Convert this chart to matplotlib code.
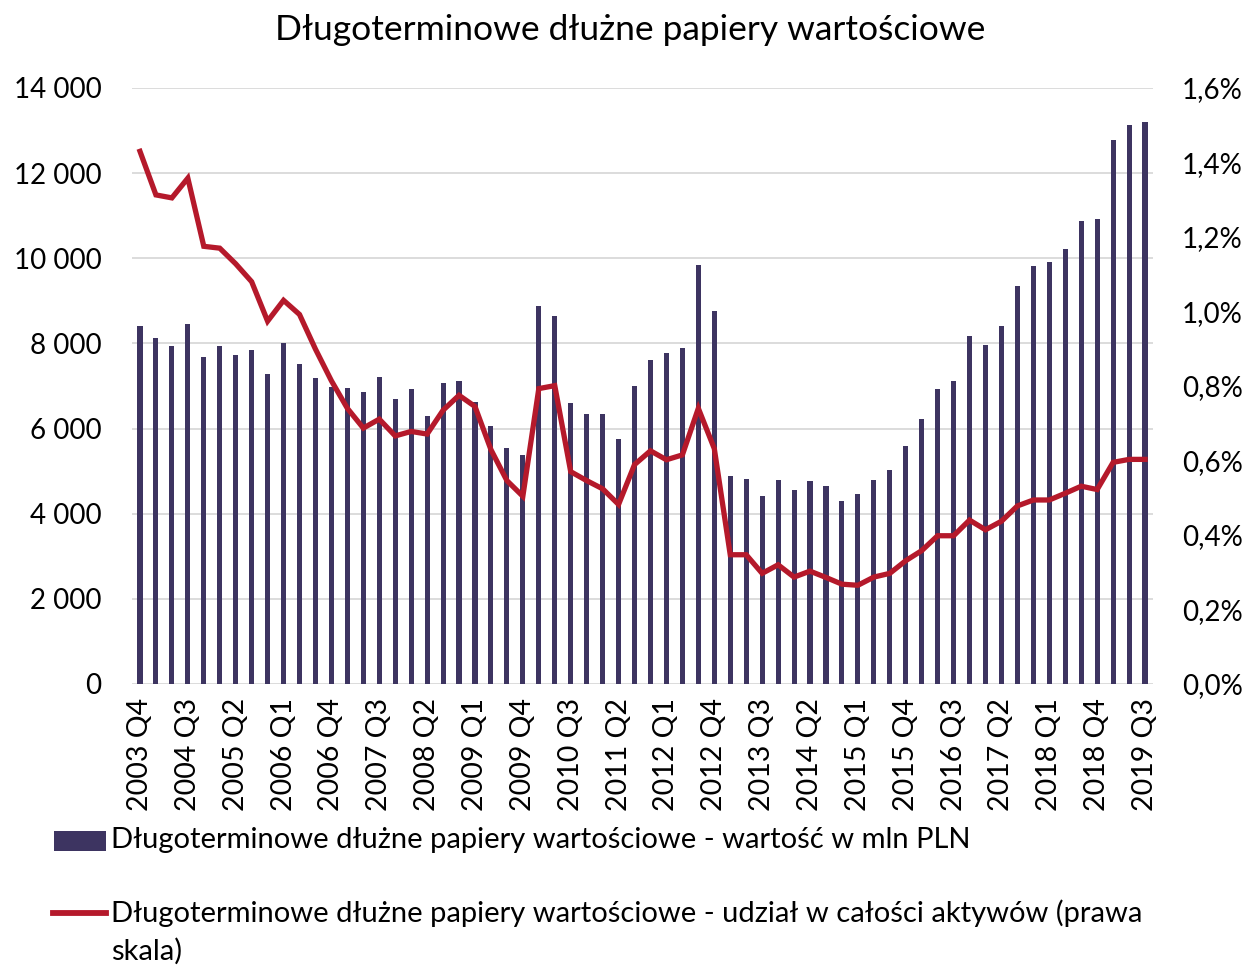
import matplotlib
matplotlib.use("Agg")
import matplotlib.pyplot as plt
from matplotlib.patches import Rectangle
from matplotlib.lines import Line2D
import numpy as np

plt.rcParams['font.family'] = ['Lato', 'DejaVu Sans']

years = list(range(2003, 2020))
quarters = []
for y in years:
    for q in range(1, 5):
        if (y == 2003 and q < 4) or (y == 2019 and q > 3):
            continue
        quarters.append(f"{y} Q{q}")

values = [8416, 8119, 7942, 8453, 7682, 7942, 7738, 7840, 7292, 8007,
          7524, 7180, 6985, 6948, 6855, 7208, 6688, 6920, 6298, 7060,
          7125, 6614, 6066, 5546, 5378, 8890, 8639, 6595, 6344, 6335,
          5759, 6995, 7617, 7775, 7896, 9846, 8769, 4877, 4821, 4412,
          4802, 4561, 4775, 4645, 4310, 4468, 4784, 5035, 5601, 6233,
          6939, 7125, 8184, 7961, 8407, 9345, 9818, 9911, 10218, 10868,
          10933, 12772, 13125, 13190]

share = [1.430, 1.313, 1.305, 1.358, 1.175, 1.170, 1.128, 1.080, 0.974, 1.030,
         0.992, 0.899, 0.814, 0.740, 0.687, 0.711, 0.666, 0.678, 0.671, 0.735,
         0.775, 0.745, 0.629, 0.546, 0.504, 0.793, 0.801, 0.570, 0.546, 0.524,
         0.482, 0.589, 0.626, 0.602, 0.615, 0.740, 0.632, 0.347, 0.347, 0.297,
         0.320, 0.287, 0.303, 0.286, 0.268, 0.265, 0.287, 0.297, 0.331, 0.358,
         0.398, 0.398, 0.440, 0.414, 0.437, 0.478, 0.494, 0.494, 0.512, 0.531,
         0.522, 0.595, 0.603, 0.603]

left_ticks = [0, 2000, 4000, 6000, 8000, 10000, 12000, 14000]
left_labels = ["0", "2 000", "4 000", "6 000", "8 000", "10 000", "12 000", "14 000"]
right_ticks = [0.0, 0.2, 0.4, 0.6, 0.8, 1.0, 1.2, 1.4, 1.6]
right_labels = ["0,0%", "0,2%", "0,4%", "0,6%", "0,8%", "1,0%", "1,2%", "1,4%", "1,6%"]

title = "Długoterminowe dłużne papiery wartościowe"
legend_bar = "Długoterminowe dłużne papiery wartościowe - wartość w mln PLN"
legend_line1 = "Długoterminowe dłużne papiery wartościowe - udział w całości aktywów (prawa"
legend_line2 = "skala)"

bar_color = "#3D3461"
line_color = "#B5192B"

W, H = 1250, 966
fig = plt.figure(figsize=(W / 100, H / 100), dpi=100)
ax = fig.add_axes([132 / W, 1 - 684 / H, (1153 - 132) / W, (684 - 88) / H])

x = np.arange(len(quarters))
ax.bar(x, values, width=0.32, color=bar_color, zorder=2)
ax.set_ylim(0, 14000)
ax.set_xlim(-0.5, len(quarters) - 0.5)
ax.set_yticks(left_ticks)
ax.set_yticklabels(left_labels)
ax.grid(axis='y', color='#D9D9D9', linewidth=1.3, zorder=0)
ax.set_axisbelow(True)
for s in ax.spines.values():
    s.set_visible(False)
ax.tick_params(axis='y', length=0, labelsize=20, pad=22, colors='#000000')
ax.set_xticks(x[::3])
ax.set_xticklabels([quarters[i] for i in x[::3]], rotation=90, fontsize=20.5)
ax.tick_params(axis='x', length=0, pad=10)

ax2 = ax.twinx()
ax2.plot(x, share, color=line_color, linewidth=3.8, solid_joinstyle='miter', zorder=3)
ax2.set_ylim(0, 1.6)
ax2.set_yticks(right_ticks)
ax2.set_yticklabels(right_labels)
ax2.tick_params(axis='y', length=0, labelsize=20, pad=21)
for s in ax2.spines.values():
    s.set_visible(False)

fig.text(630 / W, 1 - 30 / H, title, ha='center', va='center', fontsize=25.5)

# legend (manual)
fig.patches.append(Rectangle((54 / W, 1 - 851 / H), 52 / W, 20 / H,
                             transform=fig.transFigure, facecolor=bar_color, edgecolor='none'))
fig.text(111 / W, 1 - 840 / H, legend_bar, ha='left', va='center', fontsize=21)
fig.lines.append(Line2D([53 / W, 106 / W], [1 - 913 / H, 1 - 913 / H],
                        transform=fig.transFigure, color=line_color, linewidth=4.2))
fig.text(111 / W, 1 - 913 / H, legend_line1, ha='left', va='center', fontsize=21)
fig.text(111 / W, 1 - 951 / H, legend_line2, ha='left', va='center', fontsize=21)

fig.savefig("out.png", dpi=100)
